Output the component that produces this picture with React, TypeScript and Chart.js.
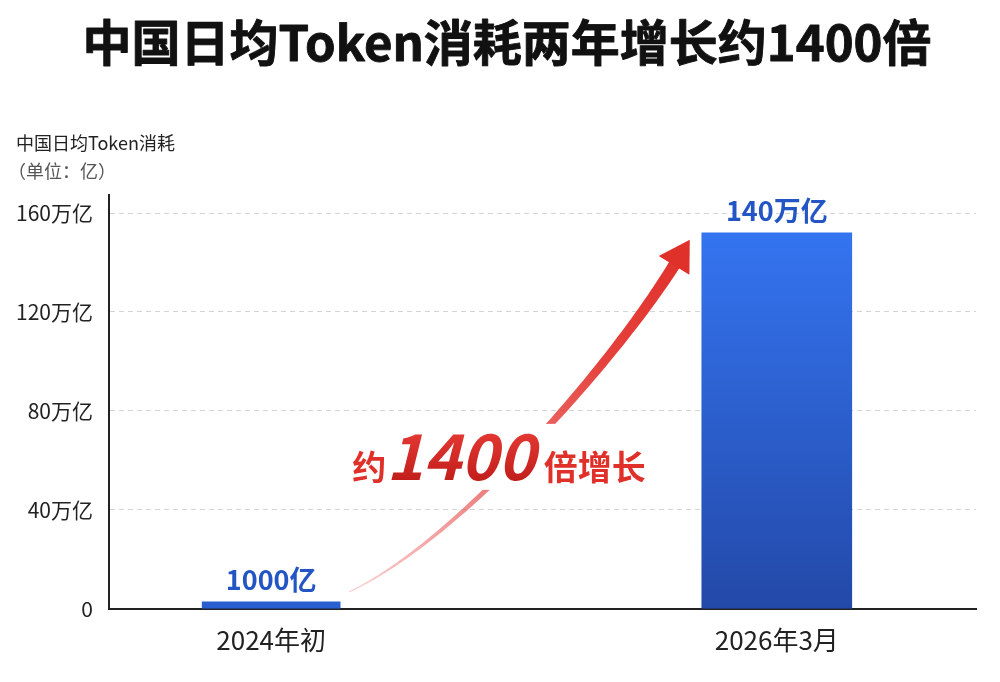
import React, { useEffect, useRef } from 'react';
import { Chart, registerables } from 'chart.js';

Chart.register(...registerables);

// ---- data ----
const categories = ['2024年初', '2026年3月'];
const categoryPositions = [0, 1];
const values = [2.8, 152]; // bar heights as drawn, in 万亿
const valueLabels = ['1000亿', '140万亿'];
const yTickValues = [0, 40, 80, 120, 160];
const yTickLabels = ['0', '40万亿', '80万亿', '120万亿', '160万亿'];
const titleText = '中国日均Token消耗两年增长约1400倍';
const yAxisTitle = ['中国日均Token消耗', '（单位：亿）'];
const growthText = ['约', '1400', '倍增长'];

const FONT = '"Noto Sans CJK SC", "Noto Sans", sans-serif';

const titlePlugin = {
  id: 'bigTitle',
  afterDraw(chart: any) {
    const { ctx } = chart;
    ctx.save();
    ctx.textAlign = 'center';
    ctx.textBaseline = 'middle';
    ctx.font = `bold 49px ${FONT}`;
    ctx.fillStyle = '#111';
    ctx.strokeStyle = '#111';
    ctx.lineWidth = 0.9;
    ctx.lineJoin = 'round';
    ctx.fillText(titleText, 507, 42);
    ctx.strokeText(titleText, 507, 42);
    ctx.restore();
  },
};

const yTitlePlugin = {
  id: 'yTitle',
  afterDraw(chart: any) {
    const { ctx, chartArea } = chart;
    ctx.save();
    ctx.textAlign = 'left';
    ctx.textBaseline = 'middle';
    ctx.font = `18px ${FONT}`;
    ctx.fillStyle = '#222';
    ctx.fillText(yAxisTitle[0], 16, chartArea.top - 52);
    ctx.fillStyle = '#555';
    ctx.fillText(yAxisTitle[1], 8, chartArea.top - 24);
    ctx.restore();
  },
};

const valueLabelPlugin = {
  id: 'valueLabels',
  afterDatasetsDraw(chart: any) {
    const { ctx } = chart;
    ctx.save();
    ctx.font = `bold 27px ${FONT}`;
    ctx.fillStyle = '#2356c4';
    ctx.textAlign = 'center';
    ctx.textBaseline = 'alphabetic';
    chart.data.datasets.forEach((_: any, i: number) => {
      const el = chart.getDatasetMeta(i).data[0];
      if (!el) return;
      ctx.fillText(valueLabels[i], el.x, el.y - 12);
    });
    ctx.restore();
  },
};

const arrowPlugin = {
  id: 'growthArrow',
  afterDatasetsDraw(chart: any) {
    const { ctx } = chart;
    const b1: any = chart.getDatasetMeta(0).data[0];
    const b2: any = chart.getDatasetMeta(1).data[0];
    if (!b1 || !b2) return;
    const S = { x: b1.x + b1.width / 2 + 9, y: b1.y - 10 };
    const T = { x: b2.x - b2.width / 2 - 12, y: b2.y + 7 };
    const dx = T.x - S.x;
    const dy = T.y - S.y;
    const dl = Math.hypot(16, -26);
    const dir = { x: 16 / dl, y: -26 / dl };
    const headLen = 30;
    const headHalf = 18;
    const P0 = S;
    const P1 = { x: S.x + 0.32 * dx, y: S.y + 0.145 * dy };
    const P3 = { x: T.x - dir.x * headLen * 0.85, y: T.y - dir.y * headLen * 0.85 };
    const k = 0.34 * Math.abs(dy);
    const P2 = { x: P3.x - dir.x * k, y: P3.y - dir.y * k };
    const bez = (t: number) => {
      const a = (1 - t) ** 3, b = 3 * (1 - t) ** 2 * t, c = 3 * (1 - t) * t * t, d = t ** 3;
      return {
        x: a * P0.x + b * P1.x + c * P2.x + d * P3.x,
        y: a * P0.y + b * P1.y + c * P2.y + d * P3.y,
      };
    };
    const N = 80;
    const left: any[] = [];
    const right: any[] = [];
    for (let i = 0; i <= N; i++) {
      const t = i / N;
      const p = bez(t);
      const q = bez(Math.min(1, t + 0.001));
      const r = bez(Math.max(0, t - 0.001));
      let tx = q.x - r.x, ty = q.y - r.y;
      const l = Math.hypot(tx, ty) || 1;
      tx /= l; ty /= l;
      const w = 1.2 + 11 * Math.pow(t, 1.1);
      left.push({ x: p.x - ty * w / 2, y: p.y + tx * w / 2 });
      right.push({ x: p.x + ty * w / 2, y: p.y - tx * w / 2 });
    }
    ctx.save();
    const g = ctx.createLinearGradient(S.x, S.y, T.x, T.y);
    g.addColorStop(0, 'rgba(236,110,110,0.3)');
    g.addColorStop(0.35, 'rgba(232,80,80,0.75)');
    g.addColorStop(0.7, 'rgba(228,55,50,0.95)');
    g.addColorStop(1, '#e0302a');
    ctx.fillStyle = g;
    ctx.beginPath();
    ctx.moveTo(left[0].x, left[0].y);
    left.forEach((p) => ctx.lineTo(p.x, p.y));
    for (let i = right.length - 1; i >= 0; i--) ctx.lineTo(right[i].x, right[i].y);
    ctx.closePath();
    ctx.fill();
    // arrow head
    const B = { x: T.x - dir.x * headLen, y: T.y - dir.y * headLen };
    ctx.fillStyle = '#e0302a';
    ctx.beginPath();
    ctx.moveTo(T.x, T.y);
    ctx.lineTo(B.x - dir.y * headHalf, B.y + dir.x * headHalf);
    ctx.lineTo(B.x + dir.y * headHalf, B.y - dir.x * headHalf);
    ctx.closePath();
    ctx.fill();

    // growth text with white gap behind it
    const baseY = S.y - 112;
    const startX = S.x + 3;
    ctx.font = `bold 34px ${FONT}`;
    const w1 = ctx.measureText(growthText[0]).width;
    ctx.font = `italic bold 63px ${FONT}`;
    const w2 = ctx.measureText(growthText[1]).width;
    ctx.font = `bold 34px ${FONT}`;
    const w3 = ctx.measureText(growthText[2]).width;
    const gap1 = 0, gap2 = 9;
    const total = w1 + gap1 + w2 + gap2 + w3;
    ctx.fillStyle = '#ffffff';
    ctx.fillRect(startX - 6, baseY - 56, total + 12, 66);
    ctx.textBaseline = 'alphabetic';
    ctx.textAlign = 'left';
    ctx.fillStyle = '#e0302a';
    ctx.font = `bold 34px ${FONT}`;
    ctx.fillText(growthText[0], startX, baseY);
    const tg = ctx.createLinearGradient(0, baseY - 50, 0, baseY);
    tg.addColorStop(0, '#e53935');
    tg.addColorStop(1, '#c21f1c');
    ctx.fillStyle = tg;
    ctx.font = `italic bold 63px ${FONT}`;
    ctx.fillText(growthText[1], startX + w1 + gap1, baseY);
    ctx.fillStyle = '#e0302a';
    ctx.font = `bold 34px ${FONT}`;
    ctx.fillText(growthText[2], startX + w1 + gap1 + w2 + gap2, baseY);
    ctx.restore();
  },
};

export default function App() {
  const ref = useRef<HTMLCanvasElement>(null);
  useEffect(() => {
    if (!ref.current) return;
    const chart = new Chart(ref.current, {
      type: 'bar',
      data: {
        datasets: [
          {
            label: categories[0],
            data: [{ x: categoryPositions[0], y: values[0] }],
            backgroundColor: '#2a5fd2',
            barThickness: 138,
            grouped: false,
            borderWidth: 0,
          } as any,
          {
            label: categories[1],
            data: [{ x: categoryPositions[1], y: values[1] }],
            backgroundColor: (c: any) => {
              const ca = c.chart.chartArea;
              if (!ca) return '#2f66d8';
              const g = c.chart.ctx.createLinearGradient(0, ca.top + 38, 0, ca.bottom);
              g.addColorStop(0, '#3474f0');
              g.addColorStop(1, '#2349a8');
              return g;
            },
            barThickness: 150,
            grouped: false,
            borderWidth: 0,
          } as any,
        ],
      },
      options: {
        animation: false,
        responsive: false,
        layout: { padding: { left: 0, right: 24, top: 195, bottom: 18 } },
        plugins: {
          legend: { display: false },
          tooltip: { enabled: false },
          title: { display: false },
        },
        scales: {
          x: {
            type: 'linear',
            offset: false,
            min: -0.3208,
            max: 1.394,
            grid: { display: false },
            border: { display: true, color: '#222', width: 2 },
            afterBuildTicks: (s: any) => {
              s.ticks = categoryPositions.map((v) => ({ value: v }));
            },
            ticks: {
              autoSkip: false,
              maxRotation: 0,
              padding: 8,
              color: '#222',
              font: { family: FONT, size: 26 },
              callback: (v: any) => categories[categoryPositions.indexOf(Number(v))],
            },
          },
          y: {
            type: 'linear',
            min: 0,
            max: 167.3,
            afterBuildTicks: (s: any) => {
              s.ticks = yTickValues.map((v) => ({ value: v }));
            },
            grid: {
              drawTicks: false,
              color: (c: any) => (c.tick && c.tick.value === 0 ? 'rgba(0,0,0,0)' : '#d4d4d4'),
              lineWidth: 1,
            },
            border: { display: true, color: '#222', width: 2, dash: [5, 4] },
            ticks: {
              padding: 16,
              color: '#222',
              font: { family: FONT, size: 21 },
              callback: (v: any) => yTickLabels[yTickValues.indexOf(Number(v))],
            },
          },
        },
      } as any,
      plugins: [titlePlugin, yTitlePlugin, valueLabelPlugin, arrowPlugin],
    });
    return () => chart.destroy();
  }, []);
  return (
    <div style={{ position: 'absolute', left: 0, top: 0, width: 1000, height: 682, background: '#fff' }}>
      <canvas ref={ref} width={1000} height={682} style={{ display: 'block' }} />
    </div>
  );
}
